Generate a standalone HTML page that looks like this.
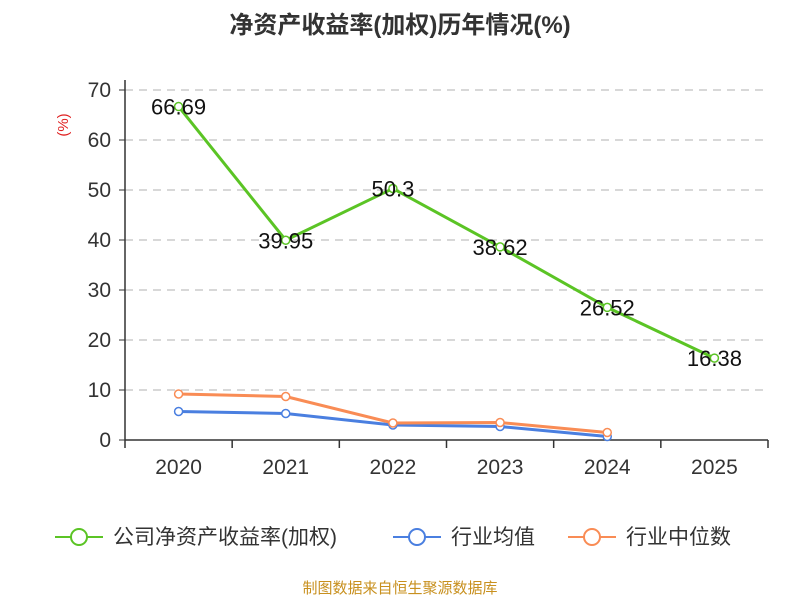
<!DOCTYPE html>
<html><head><meta charset="utf-8"><style>
body{margin:0;background:#fff;font-family:"Liberation Sans","Noto Sans CJK SC",sans-serif}
</style></head><body>
<svg id="c" width="800" height="600" xmlns="http://www.w3.org/2000/svg" font-family="Liberation Sans, Noto Sans CJK SC, sans-serif">
<text x="400" y="33" text-anchor="middle" font-size="24" font-weight="bold" fill="#333">净资产收益率(加权)历年情况(%)</text>
<text x="68" y="125" font-size="15" fill="#e02020" transform="rotate(-90 68 125)" text-anchor="middle">(%)</text>
<g id="grid"></g><g id="axes"></g><g id="series"></g>
<g font-size="21" fill="#333">
<g><line x1="55" y1="537" x2="103" y2="537" stroke="#5bc425" stroke-width="2"/><circle cx="79" cy="537" r="8" fill="#fff" stroke="#5bc425" stroke-width="2"/><text x="113" y="544">公司净资产收益率(加权)</text></g>
<g><line x1="393" y1="537" x2="441" y2="537" stroke="#4a7fe0" stroke-width="2"/><circle cx="417" cy="537" r="8" fill="#fff" stroke="#4a7fe0" stroke-width="2"/><text x="451" y="544">行业均值</text></g>
<g><line x1="568" y1="537" x2="616" y2="537" stroke="#f98c55" stroke-width="2"/><circle cx="592" cy="537" r="8" fill="#fff" stroke="#f98c55" stroke-width="2"/><text x="626" y="544">行业中位数</text></g>
</g>
<text x="400" y="593" text-anchor="middle" font-size="15" fill="#c8901e">制图数据来自恒生聚源数据库</text>
</svg>
<script>
const categories=["2020","2021","2022","2023","2024","2025"];
const company=[66.69,39.95,50.3,38.62,26.52,16.38];
const industryAvg=[5.7,5.3,3.0,2.7,0.7];
const industryMedian=[9.2,8.7,3.4,3.5,1.5];
const yTicks=[0,10,20,30,40,50,60,70];
const NS="http://www.w3.org/2000/svg";
const L=125,R=768,T=90,B=440,yMax=70;
const bw=(R-L)/categories.length;
const xs=i=>L+bw*(i+0.5), ys=v=>B-(v/yMax)*(B-T);
function mk(tag,attrs,parent){const e=document.createElementNS(NS,tag);for(const k in attrs)e.setAttribute(k,attrs[k]);parent.appendChild(e);return e;}
const grid=document.getElementById('grid'),axes=document.getElementById('axes'),ser=document.getElementById('series');
yTicks.forEach(t=>{
 if(t>0){const g=mk('line',{x1:L,x2:R,y1:ys(t),y2:ys(t),stroke:'#ccc','stroke-dasharray':'8,6','stroke-width':1.5},grid);
 
 }
 mk('line',{x1:L-6,x2:L,y1:ys(t),y2:ys(t),stroke:'#333'},axes);
 const tx=mk('text',{x:L-14,y:ys(t)+7,'text-anchor':'end','font-size':21,fill:'#333'},axes);tx.textContent=t;
 
 
});
mk('line',{x1:L,x2:L,y1:T-10,y2:B,stroke:'#333','stroke-width':1.5},axes);
mk('line',{x1:L,x2:R,y1:B,y2:B,stroke:'#333','stroke-width':1.5},axes);
for(let i=0;i<=categories.length;i++)mk('line',{x1:L+bw*i,x2:L+bw*i,y1:B,y2:B+8,stroke:'#333','stroke-width':1.5},axes);
categories.forEach((c,i)=>{const tx=mk('text',{x:xs(i),y:474,'text-anchor':'middle','font-size':21,fill:'#333'},axes);tx.textContent=c;
 
 });
function line(data,color,name,labels){
 const g=mk('g',{},ser);
 
 
 mk('polyline',{points:data.map((v,i)=>xs(i)+','+ys(v)).join(' '),fill:'none',stroke:color,'stroke-width':3},g);
 data.forEach((v,i)=>{const c=mk('circle',{cx:xs(i),cy:ys(v),r:4,fill:'#fff',stroke:color,'stroke-width':1.5},g);
  
  
  if(labels){const t=mk('text',{x:xs(i),y:ys(v)+8,'text-anchor':'middle','font-size':22,fill:'#111'},g);t.textContent=v;
   
   }
 });
}
line(industryAvg,'#4a7fe0','industry-avg-line',false);
line(industryMedian,'#f98c55','industry-median-line',false);
line(company,'#5bc425','company-roe-line',true);
</script>
</body></html>
